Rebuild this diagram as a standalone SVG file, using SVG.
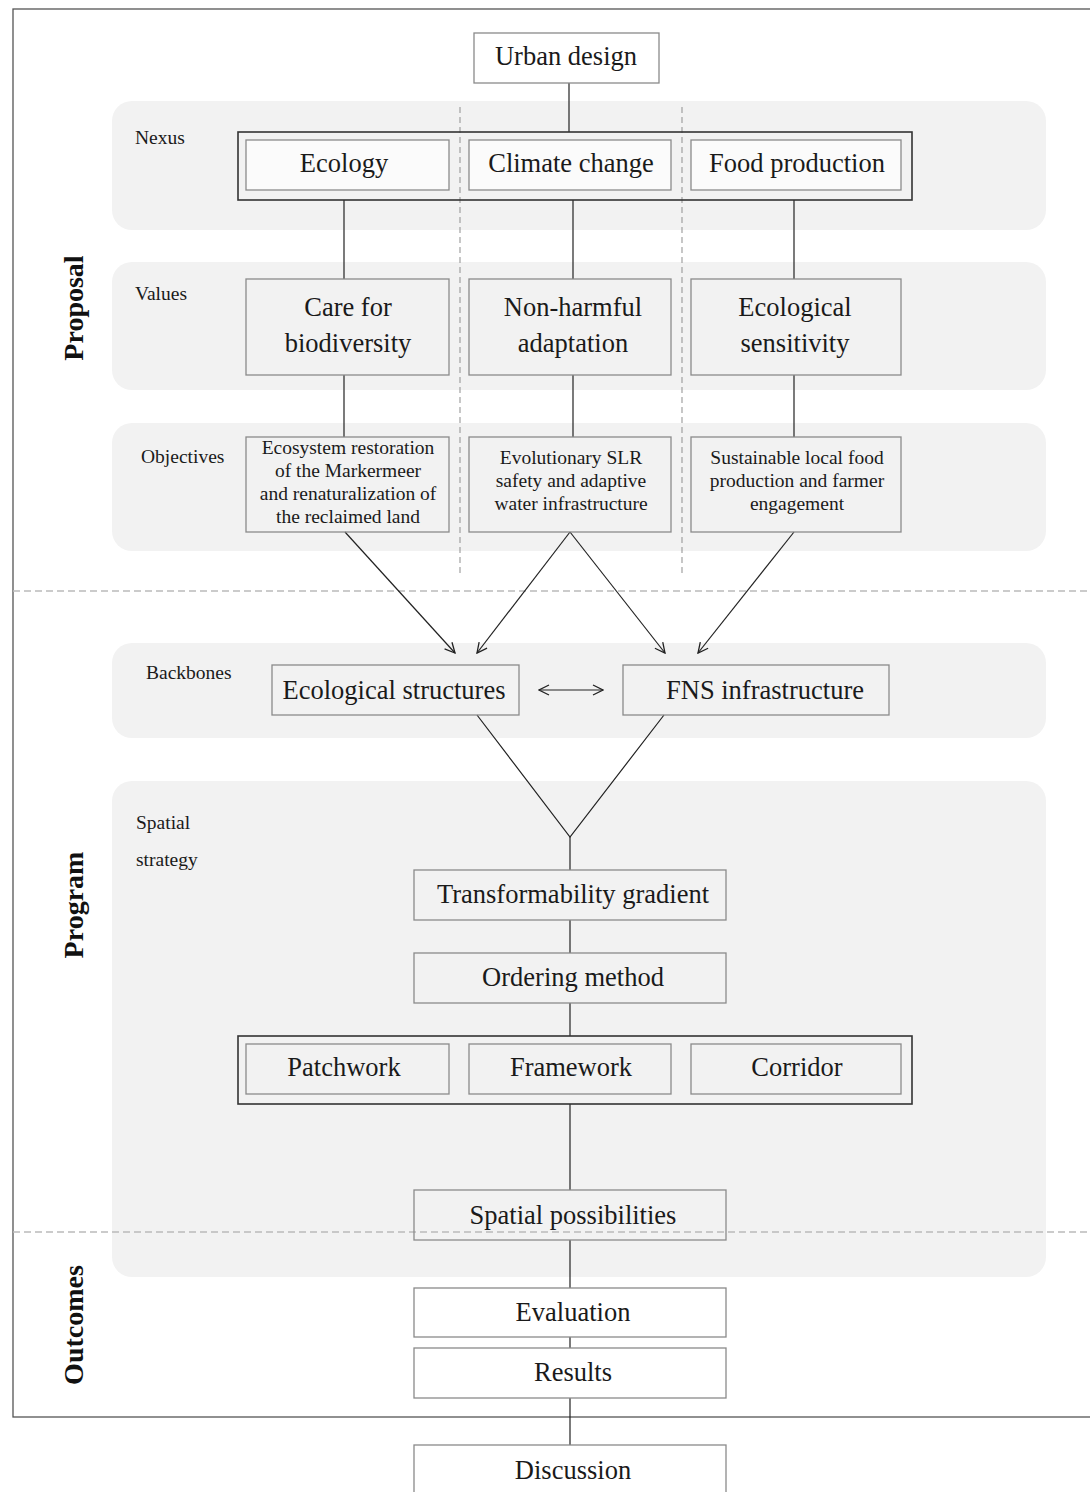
<svg xmlns="http://www.w3.org/2000/svg" width="1090" height="1492" viewBox="0 0 1090 1492">
<defs>
<style>
.panel{fill:#f2f2f2;stroke:none}
.box{fill:none;stroke:#8a8a8a;stroke-width:1.3}
.wbox{fill:#ffffff;stroke:#8a8a8a;stroke-width:1.3}
.ibox{fill:#fbfbfb;stroke:#8a8a8a;stroke-width:1.3}
.gbox{fill:#f2f2f2;stroke:#8a8a8a;stroke-width:1.3}
.obox{fill:none;stroke:#333;stroke-width:1.6}
.t{font-family:"Liberation Serif","DejaVu Serif",serif;fill:#1a1a1a;text-anchor:middle;dominant-baseline:central}
.big{font-size:26.5px}
.small{font-size:19.5px}
.lab{font-family:"Liberation Serif","DejaVu Serif",serif;fill:#1a1a1a;font-size:19.5px}
.side{font-family:"Liberation Serif","DejaVu Serif",serif;fill:#111;font-size:28px;font-weight:bold;text-anchor:middle;dominant-baseline:central}
.ln{stroke:#222;stroke-width:1.2;fill:none}
.vd{stroke:#999;stroke-width:1.1;stroke-dasharray:6 4;fill:none}
.hd{stroke:#bbb;stroke-width:1.4;stroke-dasharray:7 4;fill:none}
</style>
<marker id="ah" viewBox="0 0 12 12" refX="11" refY="6" markerWidth="12" markerHeight="12" markerUnits="userSpaceOnUse" orient="auto-start-reverse">
<path d="M1,1 L11,6 L1,11" fill="none" stroke="#222" stroke-width="1.3"/>
</marker>
</defs>
<rect x="0" y="0" width="1090" height="1492" fill="#fff"/>
<!-- outer frame -->
<rect x="13" y="9" width="1090" height="1408" fill="none" stroke="#555" stroke-width="1.3"/>
<!-- panels -->
<g id="panels">
<rect class="panel" x="112" y="101" width="934" height="129" rx="20"/>
<rect class="panel" x="112" y="262" width="934" height="128" rx="20"/>
<rect class="panel" x="112" y="423" width="934" height="128" rx="20"/>
<rect class="panel" x="112" y="643" width="934" height="95" rx="20"/>
<rect class="panel" x="112" y="781" width="934" height="496" rx="20"/>
</g>
<!-- dividers -->
<g id="dividers">
<line class="vd" x1="460" y1="107" x2="460" y2="577"/>
<line class="vd" x1="682" y1="107" x2="682" y2="577"/>
<line class="hd" x1="13" y1="591" x2="1090" y2="591"/>
<line class="hd" x1="13" y1="1232" x2="1090" y2="1232"/>
</g>
<!-- side labels -->
<text class="side" transform="translate(73,308) rotate(-90)">Proposal</text>
<text class="side" transform="translate(73,905) rotate(-90)">Program</text>
<text class="side" transform="translate(73,1325) rotate(-90)">Outcomes</text>
<!-- section labels -->
<text class="lab" x="135" y="137" dominant-baseline="central">Nexus</text>
<text class="lab" x="135" y="293" dominant-baseline="central">Values</text>
<text class="lab" x="141" y="456" dominant-baseline="central">Objectives</text>
<text class="lab" x="146" y="672" dominant-baseline="central">Backbones</text>
<text class="lab" x="136" y="822" dominant-baseline="central">Spatial</text>
<text class="lab" x="136" y="859" dominant-baseline="central">strategy</text>
<!-- connectors -->
<g id="connectors">
<line class="ln" x1="569" y1="83" x2="569" y2="132"/>
<line class="ln" x1="344" y1="200" x2="344" y2="279"/>
<line class="ln" x1="573" y1="200" x2="573" y2="279"/>
<line class="ln" x1="794" y1="200" x2="794" y2="279"/>
<line class="ln" x1="344" y1="375" x2="344" y2="437"/>
<line class="ln" x1="573" y1="375" x2="573" y2="437"/>
<line class="ln" x1="794" y1="375" x2="794" y2="437"/>
<line class="ln" x1="345" y1="532" x2="455" y2="653" marker-end="url(#ah)"/>
<line class="ln" x1="570" y1="532" x2="477" y2="653" marker-end="url(#ah)"/>
<line class="ln" x1="570" y1="532" x2="665" y2="653" marker-end="url(#ah)"/>
<line class="ln" x1="794" y1="532" x2="698" y2="653" marker-end="url(#ah)"/>
<line class="ln" x1="539" y1="690" x2="603" y2="690" marker-start="url(#ah)" marker-end="url(#ah)"/>
<polyline class="ln" points="477,715 570,837 664,715"/>
<line class="ln" x1="570" y1="837" x2="570" y2="870"/>
<line class="ln" x1="570" y1="920" x2="570" y2="953"/>
<line class="ln" x1="570" y1="1003" x2="570" y2="1036"/>
<line class="ln" x1="570" y1="1104" x2="570" y2="1190"/>
<line class="ln" x1="570" y1="1240" x2="570" y2="1288"/>
<line class="ln" x1="570" y1="1337" x2="570" y2="1348"/>
<line class="ln" x1="570" y1="1398" x2="570" y2="1445"/>
</g>
<!-- nodes -->
<g id="urban-design"><rect class="wbox" x="474" y="33" width="185" height="50"/><text class="t big" x="566" y="56">Urban design</text></g>
<g id="nexus"><rect class="obox" x="238" y="132" width="674" height="68"/></g>
<g id="ecology"><rect class="ibox" x="246" y="140" width="203" height="50"/><text class="t big" x="344" y="163">Ecology</text></g>
<g id="climate-change"><rect class="ibox" x="469" y="140" width="202" height="50"/><text class="t big" x="571" y="163">Climate change</text></g>
<g id="food-production"><rect class="ibox" x="691" y="140" width="210" height="50"/><text class="t big" x="797" y="163">Food production</text></g>
<g id="care-biodiversity"><rect class="box" x="246" y="279" width="203" height="96"/><text class="t big" x="348" y="307">Care for</text><text class="t big" x="348" y="343">biodiversity</text></g>
<g id="non-harmful"><rect class="box" x="469" y="279" width="202" height="96"/><text class="t big" x="573" y="307">Non-harmful</text><text class="t big" x="573" y="343">adaptation</text></g>
<g id="eco-sensitivity"><rect class="box" x="691" y="279" width="210" height="96"/><text class="t big" x="795" y="307">Ecological</text><text class="t big" x="795" y="343">sensitivity</text></g>
<g id="obj-ecosystem"><rect class="box" x="246" y="437" width="203" height="95"/>
<text class="t small" x="348" y="447">Ecosystem restoration</text>
<text class="t small" x="348" y="470">of the Markermeer</text>
<text class="t small" x="348" y="493">and renaturalization of</text>
<text class="t small" x="348" y="516">the reclaimed land</text></g>
<g id="obj-slr"><rect class="box" x="469" y="437" width="202" height="95"/>
<text class="t small" x="571" y="457">Evolutionary SLR</text>
<text class="t small" x="571" y="480">safety and adaptive</text>
<text class="t small" x="571" y="503">water infrastructure</text></g>
<g id="obj-food"><rect class="box" x="691" y="437" width="210" height="95"/>
<text class="t small" x="797" y="457">Sustainable local food</text>
<text class="t small" x="797" y="480">production and farmer</text>
<text class="t small" x="797" y="503">engagement</text></g>
<g id="eco-structures"><rect class="box" x="272" y="665" width="247" height="50"/><text class="t big" x="394" y="690">Ecological structures</text></g>
<g id="fns"><rect class="box" x="623" y="665" width="266" height="50"/><text class="t big" x="765" y="690">FNS infrastructure</text></g>
<g id="transformability"><rect class="box" x="414" y="870" width="312" height="50"/><text class="t big" x="573" y="894">Transformability gradient</text></g>
<g id="ordering"><rect class="box" x="414" y="953" width="312" height="50"/><text class="t big" x="573" y="977">Ordering method</text></g>
<g id="patterns"><rect class="obox" x="238" y="1036" width="674" height="68"/></g>
<g id="patchwork"><rect class="gbox" x="246" y="1044" width="203" height="50"/><text class="t big" x="344" y="1067">Patchwork</text></g>
<g id="framework"><rect class="gbox" x="469" y="1044" width="202" height="50"/><text class="t big" x="571" y="1067">Framework</text></g>
<g id="corridor"><rect class="gbox" x="691" y="1044" width="210" height="50"/><text class="t big" x="797" y="1067">Corridor</text></g>
<g id="spatial-possibilities"><rect class="box" x="414" y="1190" width="312" height="50"/><text class="t big" x="573" y="1215">Spatial possibilities</text></g>
<g id="evaluation"><rect class="wbox" x="414" y="1288" width="312" height="49"/><text class="t big" x="573" y="1312">Evaluation</text></g>
<g id="results"><rect class="wbox" x="414" y="1348" width="312" height="50"/><text class="t big" x="573" y="1372">Results</text></g>
<g id="discussion"><rect class="wbox" x="414" y="1445" width="312" height="60"/><text class="t big" x="573" y="1470">Discussion</text></g>
</svg>
